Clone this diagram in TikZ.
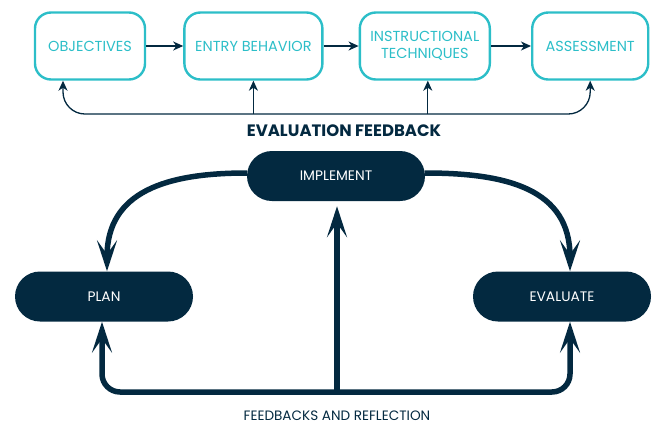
\documentclass[tikz,border=0pt]{standalone}
\usepackage{fontspec}
\setmainfont{Poppins}
\usepackage{tikz}
\usetikzlibrary{arrows.meta, positioning}
\definecolor{teal}{RGB}{44,190,200}
\definecolor{navy}{RGB}{3,41,64}
\tikzstyle{topbox} = [rectangle, rounded corners=16pt, minimum height=67pt, text centered, draw=teal, line width=2.4pt, text=teal, font=\fontsize{14.5}{17.5}\selectfont, align=center]
\tikzstyle{pill} = [rectangle, rounded corners=25pt, minimum width=178pt, minimum height=50pt, fill=navy, text=white, font=\fontsize{13.8}{15}\selectfont]
\tikzstyle{arrow} = [navy, line width=1.3pt, >={Stealth[length=10pt,width=9pt,inset=3pt]}, ->]
\tikzstyle{bigarrow} = [navy, line width=5.5pt, >={Stealth[length=31pt,width=20pt,inset=14pt]}, ->]
\begin{document}
\begin{tikzpicture}[x=1pt,y=-1pt]
	\useasboundingbox (0,0) rectangle (661,424);
	% top row
	\node (obj) [topbox, minimum width=110pt] at (90,46) {OBJECTIVES};
	\node (entry) [topbox, minimum width=138pt, right=37pt of obj] {ENTRY BEHAVIOR};
	\node (instr) [topbox, minimum width=130pt, right=35pt of entry] {INSTRUCTIONAL\\TECHNIQUES};
	\node (assess) [topbox, minimum width=116pt, right=40pt of instr] {ASSESSMENT};
	\node (evalfb) [text=navy, font=\fontsize{16.5}{18}\selectfont\bfseries] at (344,131) {EVALUATION FEEDBACK};
	\coordinate (fbtop) at (0,114);
	\coordinate (objin) at ([xshift=-27pt]obj.south);

	\draw [arrow] (obj) -- (entry);
	\draw [arrow] (entry) -- (instr);
	\draw [arrow] (instr) -- (assess);
	\draw [arrow, <->, rounded corners=22pt] (objin) |- (fbtop -| assess.south) -- (assess.south);
	\draw [arrow] (entry.south |- fbtop) -- (entry.south);
	\draw [arrow] ([xshift=3pt]instr.south |- fbtop) -- ([xshift=3pt]instr.south);

	% cycle
	\node (implement) [pill] at (336,176) {IMPLEMENT};
	\node (plan) [pill] at (104,296.5) {PLAN};
	\node (evaluate) [pill] at (562,296.5) {EVALUATE};
	\node (reflect) [text=navy, font=\fontsize{13.6}{15}\selectfont] at (337,416) {FEEDBACKS AND REFLECTION};
	\coordinate (fbbot) at (0,392);
	\coordinate (planin) at ([xshift=-2pt]plan.south);
	\coordinate (evalin) at ([xshift=8pt]evaluate.south);

	\draw [bigarrow] ([yshift=3pt]implement.west) to[out=180, in=90, looseness=1.2] ([xshift=3pt]plan.north);
	\draw [bigarrow] ([yshift=3pt]implement.east) to[out=0, in=90, looseness=1.2] ([xshift=8pt]evaluate.north);
	\draw [bigarrow, <->, rounded corners=18pt] (planin) |- (fbbot -| evalin) -- (evalin);
	\draw [bigarrow, shorten >=5pt] ([xshift=1pt]implement.south |- fbbot) -- ([xshift=1pt]implement.south);
\end{tikzpicture}
\end{document}
